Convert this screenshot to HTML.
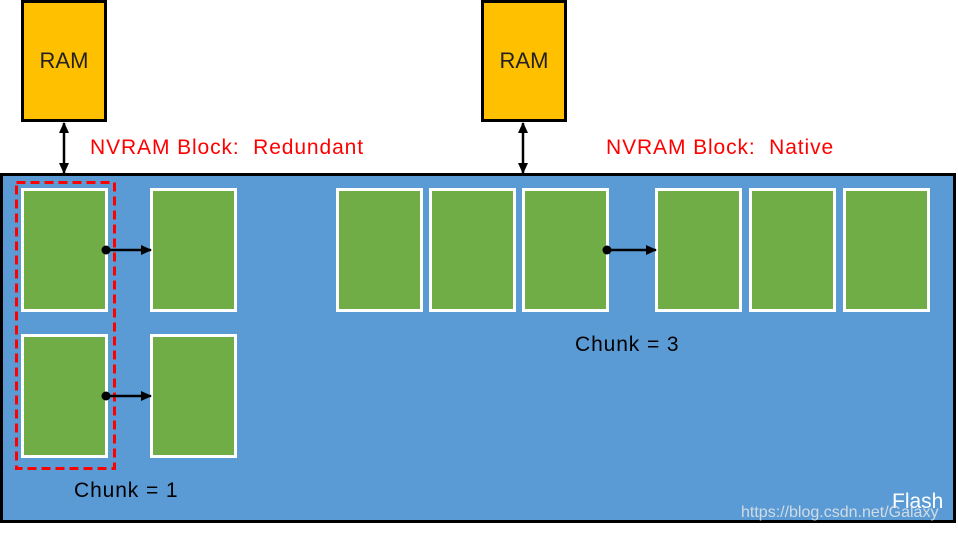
<!DOCTYPE html>
<html><head><style>
body{margin:0;width:958px;height:533px;background:#fff;position:relative;overflow:hidden;font-family:"Liberation Sans","DejaVu Sans",sans-serif}
.a{position:absolute;box-sizing:border-box}
.ram{background:#ffc000;border:3px solid #000;width:86px;height:122px;top:0;display:flex;align-items:center;justify-content:center;font-size:22px;color:#222}
.g{background:#70ad47;border:3px solid #fff;width:87px;height:124px}
.t{position:absolute;white-space:nowrap;font-size:21px;letter-spacing:0.9px}
</style></head><body>
<div class="a ram" style="left:21px">RAM</div>
<div class="a ram" style="left:481px">RAM</div>
<div class="a" style="left:0;top:173px;width:956px;height:350px;background:#5b9bd5;border:3px solid #000"></div>
<div class="a g" style="left:21px;top:188px"></div>
<div class="a g" style="left:150px;top:188px"></div>
<div class="a g" style="left:21px;top:334px"></div>
<div class="a g" style="left:150px;top:334px"></div>
<div class="a g" style="left:336px;top:188px"></div>
<div class="a g" style="left:429px;top:188px"></div>
<div class="a g" style="left:522px;top:188px"></div>
<div class="a g" style="left:655px;top:188px"></div>
<div class="a g" style="left:749px;top:188px"></div>
<div class="a g" style="left:843px;top:188px"></div>
<svg class="a" style="left:0;top:0" width="958" height="533">
<defs><marker id="m" markerWidth="11" markerHeight="10" refX="10" refY="5" orient="auto-start-reverse" markerUnits="userSpaceOnUse"><path d="M0,0L11,5L0,10z" fill="#000"/></marker></defs>
<rect x="16.5" y="182.5" width="98" height="286" fill="none" stroke="#f00" stroke-width="3" stroke-dasharray="9,5"/>
<line x1="64" y1="123" x2="64" y2="173" stroke="#000" stroke-width="2.5" marker-start="url(#m)" marker-end="url(#m)"/>
<line x1="523" y1="123" x2="523" y2="173" stroke="#000" stroke-width="2.5" marker-start="url(#m)" marker-end="url(#m)"/>
<g stroke="#000" stroke-width="2.5">
<line x1="106" y1="250" x2="151" y2="250" marker-end="url(#m)"/>
<line x1="106" y1="396" x2="151" y2="396" marker-end="url(#m)"/>
<line x1="607" y1="250" x2="656" y2="250" marker-end="url(#m)"/>
</g>
<circle cx="106" cy="250" r="4.5"/><circle cx="106" cy="396" r="4.5"/><circle cx="607" cy="250" r="4.5"/>
</svg>
<div class="t" style="left:90px;top:136px;color:#f00">NVRAM Block:&nbsp; Redundant</div>
<div class="t" style="left:606px;top:136px;color:#f00">NVRAM Block:&nbsp; Native</div>
<div class="t" style="left:575px;top:333px;color:#000">Chunk = 3</div>
<div class="t" style="left:74px;top:479px;color:#000">Chunk = 1</div>
<div class="t" style="left:892px;top:490px;font-size:21px;letter-spacing:0;color:#fff">Flash</div>
<div class="t" style="left:741px;top:504px;font-size:16px;letter-spacing:0;color:rgba(230,230,230,0.85)">https://blog.csdn.net/Galaxy</div>
</body></html>
